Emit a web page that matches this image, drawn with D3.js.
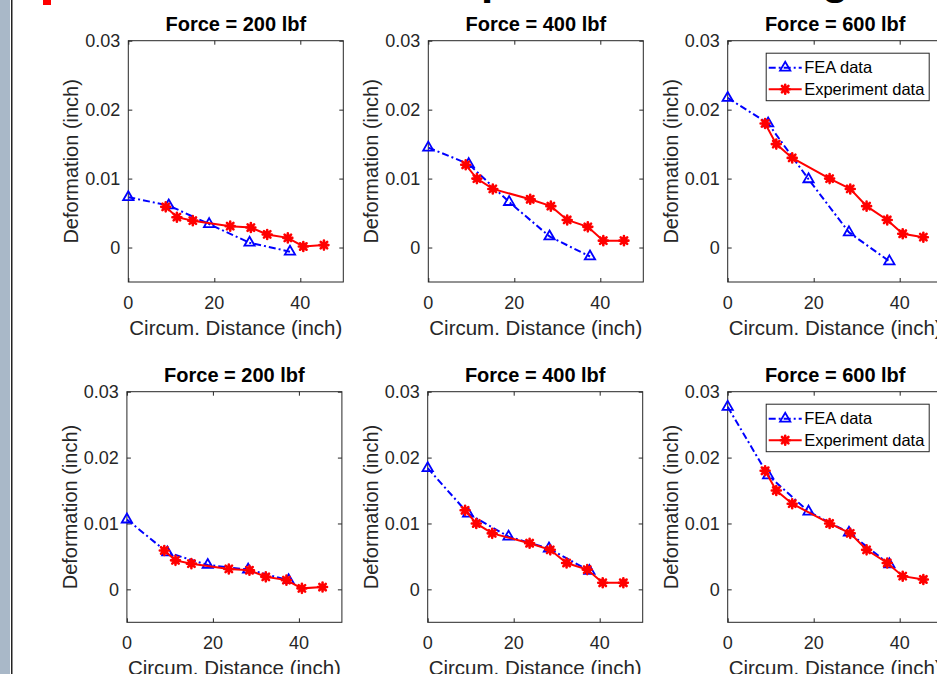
<!DOCTYPE html>
<html>
<head>
<meta charset="utf-8">
<script src="https://cdnjs.cloudflare.com/ajax/libs/d3/7.8.5/d3.min.js"></script>
<style>
    body { margin: 0; background: #fff; }
    svg { display: block; font-family: "Liberation Sans", Arial, sans-serif; }
</style>
</head>
<body>
<svg width="937" height="674"></svg>
<script>
// data
let forces = [200, 400, 600];
let feaX = [0, 9.4, 18.8, 28.2, 37.6];
let expX = [8.7, 11.3, 15, 23.7, 28.5, 32.3, 37.1, 40.7, 45.5];

// experiment data (same in both rows)
let exp200 = [0.0059, 0.0044, 0.0039, 0.0031, 0.0029, 0.0019, 0.0014, 0.00015, 0.00035];
let exp400 = [0.012, 0.010, 0.0085, 0.007, 0.006, 0.004, 0.003, 0.001, 0.001];
let exp600 = [0.018, 0.015, 0.013, 0.010, 0.0085, 0.006, 0.004, 0.002, 0.0015];

// FEA, top row
let feaTop200 = [0.0073, 0.0061, 0.0034, 0.0007, -0.0006];
let feaTop400 = [0.0145, 0.0121, 0.0066, 0.0016, -0.0013];
let feaTop600 = [0.0217, 0.0180, 0.0099, 0.0022, -0.0020];

// FEA, bottom row
let feaBot200 = [0.0106, 0.0056, 0.0037, 0.0030, 0.0014];
let feaBot400 = [0.0184, 0.0115, 0.0080, 0.0062, 0.0028];
let feaBot600 = [0.0277, 0.0173, 0.0118, 0.0086, 0.0038];

let xTicks = [0, 20, 40];
let yTicks = [0, 0.01, 0.02, 0.03];
let yTickLabels = ["0", "0.01", "0.02", "0.03"];
let legendLabels = ["FEA data", "Experiment data"];

let svgField = d3.select("svg");
let axisCol = "#262626";
let panelW = 215;

// slide bits around the figure
svgField.append("rect").attr("x", 0).attr("y", 0).attr("width", 10).attr("height", 674).attr("fill", "#a9b8c8");
svgField.append("rect").attr("x", 11).attr("y", 0).attr("width", 1.5).attr("height", 674).attr("fill", "#222");
svgField.append("rect").attr("x", 43).attr("y", 0).attr("width", 8).attr("height", 5).attr("fill", "#ff0000");
svgField.append("text").attr("x", 481).attr("y", -6).attr("font-size", "44px").attr("font-weight", "bold").text("p");
svgField.append("text").attr("x", 822).attr("y", -6).attr("font-size", "44px").attr("font-weight", "bold").text("g");

function starPath(cx, cy, r) {
    let p = d3.path();
    let d = r * 0.72;
    p.moveTo(cx - r, cy); p.lineTo(cx + r, cy);
    p.moveTo(cx, cy - r); p.lineTo(cx, cy + r);
    p.moveTo(cx - d, cy - d); p.lineTo(cx + d, cy + d);
    p.moveTo(cx - d, cy + d); p.lineTo(cx + d, cy - d);
    return p.toString();
}

// line + markers; marks = which points get a marker
function drawFea(g, pts, marks) {
    g.append("path")
        .attr("d", d3.line().x(d => d[0]).y(d => d[1])(pts))
        .attr("fill", "none")
        .attr("stroke", "#0000ff")
        .attr("stroke-width", 2)
        .attr("stroke-dasharray", "7,3,2,3");
    g.selectAll(null).data(marks).enter().append("path")
        .attr("transform", d => "translate(" + d[0] + "," + d[1] + ")")
        .attr("d", d3.symbol(d3.symbolTriangle, 46)())
        .attr("fill", "none")
        .attr("stroke", "#0000ff")
        .attr("stroke-width", 1.8);
}

function drawExp(g, pts, marks) {
    g.append("path")
        .attr("d", d3.line().x(d => d[0]).y(d => d[1])(pts))
        .attr("fill", "none")
        .attr("stroke", "#ff0000")
        .attr("stroke-width", 2);
    g.selectAll(null).data(marks).enter().append("path")
        .attr("d", d => starPath(d[0], d[1], 4.5))
        .attr("stroke", "#ff0000")
        .attr("stroke-width", 2.6)
        .attr("stroke-linecap", "round");
}

function drawPanel(left, top, bottom, force, feaVals, expVals, withLegend) {
    let x = d3.scaleLinear().domain([0, 50]).range([left, left + panelW]);
    let y = d3.scaleLinear().domain([-0.005, 0.03]).range([bottom, top]);
    let g = svgField.append("g");

    // box
    g.append("rect")
        .attr("x", left).attr("y", top)
        .attr("width", panelW).attr("height", bottom - top)
        .attr("fill", "#fff").attr("stroke", axisCol).attr("stroke-width", 1);

    // ticks on all four sides, pointing in
    let axL = d3.axisLeft(y).tickValues(yTicks).tickSizeInner(-4).tickSizeOuter(0).tickFormat("");
    let axR = d3.axisRight(y).tickValues(yTicks).tickSizeInner(-4).tickSizeOuter(0).tickFormat("");
    let axB = d3.axisBottom(x).tickValues(xTicks).tickSizeInner(-4).tickSizeOuter(0).tickFormat("");
    let axT = d3.axisTop(x).tickValues(xTicks).tickSizeInner(-4).tickSizeOuter(0).tickFormat("");
    g.append("g").attr("transform", "translate(" + left + ",0)").call(axL);
    g.append("g").attr("transform", "translate(" + (left + panelW) + ",0)").call(axR);
    g.append("g").attr("transform", "translate(0," + bottom + ")").call(axB);
    g.append("g").attr("transform", "translate(0," + top + ")").call(axT);
    g.selectAll(".domain").remove();
    g.selectAll(".tick line").attr("stroke", axisCol);

    // tick labels
    g.selectAll(null).data(yTicks).enter().append("text")
        .attr("x", left - 8)
        .attr("y", d => y(d))
        .attr("dy", ".35em")
        .attr("text-anchor", "end")
        .attr("font-size", "18px")
        .attr("fill", axisCol)
        .text((d, i) => yTickLabels[i]);
    g.selectAll(null).data(xTicks).enter().append("text")
        .attr("x", d => x(d))
        .attr("y", bottom + 27)
        .attr("text-anchor", "middle")
        .attr("font-size", "18px")
        .attr("fill", axisCol)
        .text(d => d);

    // labels and title
    g.append("text")
        .attr("x", left + panelW / 2)
        .attr("y", bottom + 53)
        .attr("text-anchor", "middle")
        .attr("font-size", "20.5px")
        .attr("fill", axisCol)
        .text("Circum. Distance (inch)");
    g.append("text")
        .attr("transform", "translate(" + (left - 50) + "," + ((top + bottom) / 2) + ") rotate(-90)")
        .attr("text-anchor", "middle")
        .attr("font-size", "20px")
        .attr("fill", axisCol)
        .text("Deformation (inch)");
    g.append("text")
        .attr("x", left + panelW / 2)
        .attr("y", top - 10)
        .attr("text-anchor", "middle")
        .attr("font-size", "20px")
        .attr("font-weight", "bold")
        .attr("fill", "#000")
        .text("Force = " + force + " lbf");

    let feaPts = feaX.map((v, i) => [x(v), y(feaVals[i])]);
    let expPts = expX.map((v, i) => [x(v), y(expVals[i])]);
    drawFea(g, feaPts, feaPts);
    drawExp(g, expPts, expPts);

    if (withLegend) {
        let lx = left + 38.5;
        let ly = top + 12.5;
        g.append("rect")
            .attr("x", lx).attr("y", ly)
            .attr("width", 163).attr("height", 47.5)
            .attr("fill", "#fff").attr("stroke", axisCol).attr("stroke-width", 1);
        let rowY = [ly + 14.5, ly + 36];
        drawFea(g, [[lx + 2.5, rowY[0]], [lx + 35.5, rowY[0]]], [[lx + 19, rowY[0]]]);
        drawExp(g, [[lx + 2.5, rowY[1]], [lx + 35.5, rowY[1]]], [[lx + 19, rowY[1]]]);
        g.selectAll(null).data(legendLabels).enter().append("text")
            .attr("x", lx + 38)
            .attr("y", (d, i) => rowY[i])
            .attr("dy", ".35em")
            .attr("font-size", "16.5px")
            .attr("fill", "#000")
            .text(d => d);
    }
}

let lefts = [128.3, 428.3, 727.7];
let leftsBot = [126.9, 427.7, 727.7];
let feaTop = [feaTop200, feaTop400, feaTop600];
let feaBot = [feaBot200, feaBot400, feaBot600];
let exps = [exp200, exp400, exp600];

for (let i = 0; i < 3; ++i) {
    drawPanel(lefts[i], 40.7, 282, forces[i], feaTop[i], exps[i], i === 2);
    drawPanel(leftsBot[i], 391.7, 622.3, forces[i], feaBot[i], exps[i], i === 2);
}
</script>
</body>
</html>
